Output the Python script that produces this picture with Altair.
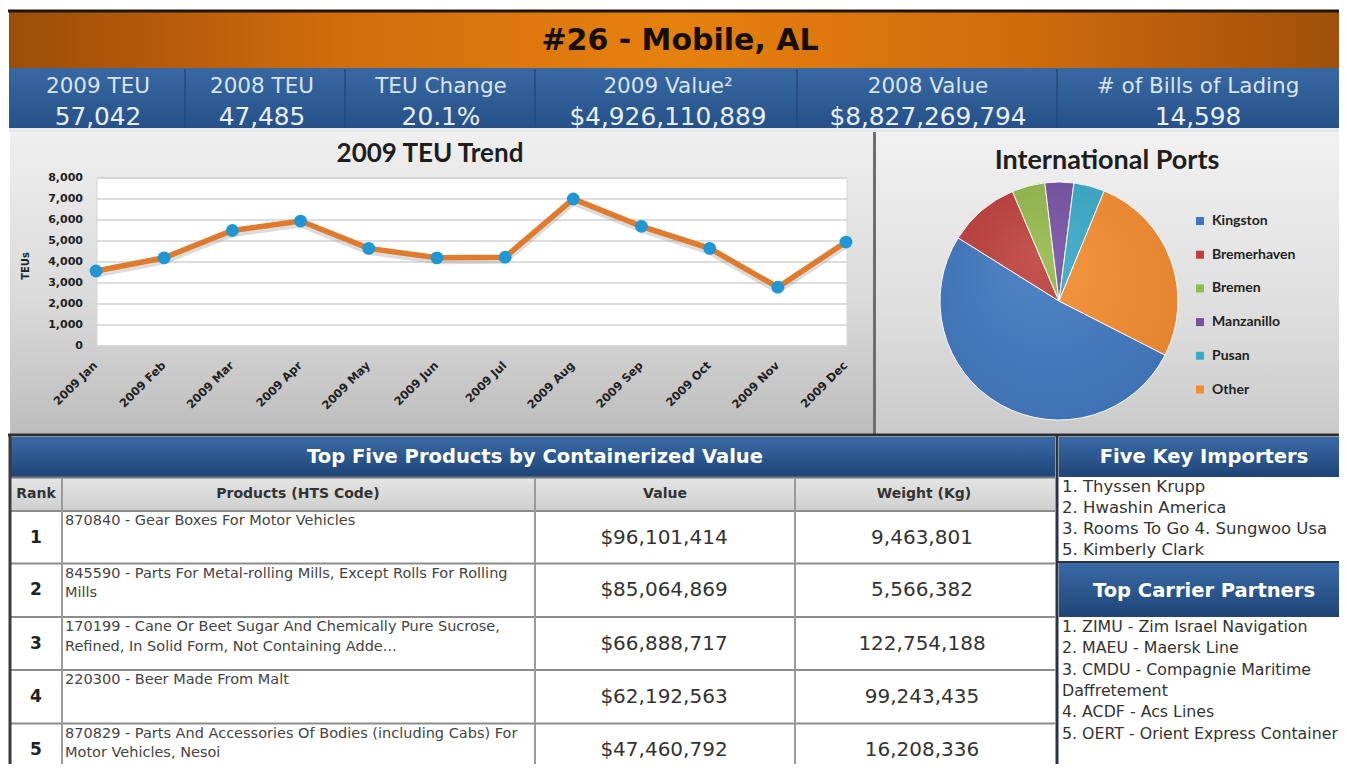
import math
import altair as alt
import pandas as pd

# ---------------- data ----------------
dashboard_title = "#26 - Mobile, AL"
stat_labels = ["2009 TEU", "2008 TEU", "TEU Change", "2009 Value²", "2008 Value", "# of Bills of Lading"]
stat_values = ["57,042", "47,485", "20.1%", "$4,926,110,889", "$8,827,269,794", "14,598"]

trend_title = "2009 TEU Trend"
trend_axis_title = "TEUs"
months = ["2009 Jan", "2009 Feb", "2009 Mar", "2009 Apr", "2009 May", "2009 Jun",
          "2009 Jul", "2009 Aug", "2009 Sep", "2009 Oct", "2009 Nov", "2009 Dec"]
teu_2009 = [3570, 4200, 5500, 5950, 4650, 4200, 4230, 7000, 5700, 4650, 2800, 4950]
teu_ticks = [0, 1000, 2000, 3000, 4000, 5000, 6000, 7000, 8000]

ports_title = "International Ports"
ports = ["Kingston", "Bremerhaven", "Bremen", "Manzanillo", "Pusan", "Other"]
port_share = [51.4, 9.7, 4.5, 3.9, 4.2, 26.3]

table_title = "Top Five Products by Containerized Value"
table_columns = ["Rank", "Products (HTS Code)", "Value", "Weight (Kg)"]
ranks = ["1", "2", "3", "4", "5"]
products = [
    "870840 - Gear Boxes For Motor Vehicles",
    "845590 - Parts For Metal-rolling Mills, Except Rolls For Rolling\nMills",
    "170199 - Cane Or Beet Sugar And Chemically Pure Sucrose,\nRefined, In Solid Form, Not Containing Adde...",
    "220300 - Beer Made From Malt",
    "870829 - Parts And Accessories Of Bodies (including Cabs) For\nMotor Vehicles, Nesoi",
]
product_values = ["$96,101,414", "$85,064,869", "$66,888,717", "$62,192,563", "$47,460,792"]
product_weights = ["9,463,801", "5,566,382", "122,754,188", "99,243,435", "16,208,336"]

importers_title = "Five Key Importers"
importers = ["1. Thyssen Krupp", "2. Hwashin America", "3. Rooms To Go 4. Sungwoo Usa", "5. Kimberly Clark"]
carriers_title = "Top Carrier Partners"
carriers = ["1. ZIMU - Zim Israel Navigation", "2. MAEU - Maersk Line",
            "3. CMDU - Compagnie Maritime\nDaffretement", "4. ACDF - Acs Lines",
            "5. OERT - Orient Express Container"]

# ---------------- styles ----------------
port_colors = ["#3F78C0", "#BE3F3B", "#93BA4C", "#7650A4", "#38AAC8", "#F58C2E"]
LINE_ORANGE = "#E07A2C"
POINT_BLUE = "#1F97D3"
SANS = "DejaVu Sans"
CHART_FONT = "Lato"

# ---------------- layout (page pixels) ----------------
OFF = 8
W, H = 1331, 756


def px(v):
    return v - OFF


ONE = pd.DataFrame({"k": [0]})


def grad(stops, horizontal=False):
    return alt.LinearGradient(
        gradient="linear", x1=0, y1=0, x2=1 if horizontal else 0, y2=0 if horizontal else 1,
        stops=[alt.GradientStop(offset=o, color=c) for o, c in stops])


def box(x0, y0, x1, y1, fill, stroke=None, sw=0):
    kw = {"fill": fill, "strokeWidth": sw}
    if stroke:
        kw["stroke"] = stroke
    return alt.Chart(ONE).mark_rect(**kw).encode(
        x=alt.value(px(x0)), x2=alt.value(px(x1)), y=alt.value(px(y0)), y2=alt.value(px(y1)))


def rule(x0, y0, x1, y1, color, w):
    return alt.Chart(ONE).mark_rule(color=color, strokeWidth=w).encode(
        x=alt.value(px(x0)), x2=alt.value(px(x1)), y=alt.value(px(y0)), y2=alt.value(px(y1)))


def label(text, x, y, size, color, weight="normal", font=SANS, align="center",
          baseline="middle", angle=0, **kw):
    return alt.Chart(ONE).mark_text(
        text=text, font=font, fontSize=size, fontWeight=weight, color=color,
        align=align, baseline=baseline, angle=angle, **kw).encode(
        x=alt.value(px(x)), y=alt.value(px(y)))


def text_layer(df, field, size, color, weight="normal", font=SANS, align="center",
               baseline="middle", **kw):
    return alt.Chart(df).mark_text(
        font=font, fontSize=size, fontWeight=weight, color=color, align=align,
        baseline=baseline, **kw).encode(
        x=alt.X("px_x:Q", scale=None, axis=None),
        y=alt.Y("px_y:Q", scale=None, axis=None),
        text=alt.Text(f"{field}:N"))


RIGHT = 1340
BOTTOM = 765
layers = []

# ---- frame / backgrounds ----
layers.append(box(8, 10, RIGHT, BOTTOM, "#FFFFFF"))
layers.append(box(9, 11, RIGHT, 68, grad([(0, "#9C4D08"), (0.25, "#D26C0D"), (0.5, "#E6810F"),
                                            (0.75, "#D26C0D"), (1, "#A0500A")], horizontal=True)))
layers.append(rule(8, 11, RIGHT, 11, "#1E1408", 3))
layers.append(box(9, 68, RIGHT, 128, grad([(0, "#3868A3"), (0.5, "#2F5D96"), (1, "#26508A")])))
layers.append(box(9, 128, RIGHT, 132, "#E8E8E8"))
stat_edges = [185, 345, 535, 797, 1057]
for xe in stat_edges:
    layers.append(rule(xe, 69, xe, 127, "#244A7E", 1.5))

# trend panel & pie panel
layers.append(box(10, 132, 873, 434, grad([(0, "#EFEFEF"), (0.55, "#DADADA"), (1, "#BDBDBD")])))
layers.append(box(876, 132, RIGHT, 434, grad([(0, "#F1F1F1"), (0.6, "#DEDEDE"), (1, "#CACACA")])))
layers.append(rule(874.5, 132, 874.5, 434, "#6E6E6E", 3))
layers.append(rule(8, 435, RIGHT, 435, "#2E2E2E", 3))

# table header bars
blue_bar = grad([(0, "#3A6AA6"), (0.5, "#2C588F"), (1, "#1F4476")])
layers.append(box(10, 437, 1055, 477, blue_bar))
layers.append(box(1059, 437, RIGHT, 477, blue_bar))
layers.append(box(1059, 563, RIGHT, 617, blue_bar))
layers.append(box(10, 478, 1055, 511, grad([(0, "#E4E4E4"), (1, "#CFCFCF")])))

# table grid
row_tops = [511, 563.5, 617, 670, 723.5]
col_edges = [62, 535, 795]
layers.append(rule(10, 477.5, 1055, 477.5, "#7A7A7A", 2))
for yt in row_tops:
    layers.append(rule(10, yt, 1055, yt, "#8C8C8C", 2))
for xe in col_edges:
    layers.append(rule(xe, 478, xe, BOTTOM, "#9A9A9A", 2))
layers.append(rule(10, 436, 10, BOTTOM, "#3A3A3A", 3))
layers.append(rule(1057, 436, 1057, BOTTOM, "#2B3445", 3))
layers.append(rule(1058, 562, RIGHT, 562, "#2B3445", 2))

# ---- title & stats ----
layers.append(label(dashboard_title, 680, 41, 30, "#141008", weight="bold"))
stat_cx = [98, 262, 441, 668, 928, 1198]
stats_df = pd.DataFrame({"label": stat_labels, "value": stat_values,
                         "px_x": [px(v) for v in stat_cx]})
stats_df["px_y"] = px(86.5)
layers.append(text_layer(stats_df, "label", 21.5, "#D9E4F1"))
stats_df2 = stats_df.copy()
stats_df2["px_y"] = px(117.5)
layers.append(text_layer(stats_df2, "value", 24.8, "#E9EFF6"))

# ---- trend chart ----
layers.append(label(trend_title, 430, 154, 26, "#1E1E1E", weight="bold", font=CHART_FONT))
layers.append(box(97, 178, 847, 346, "#FFFFFF", stroke="#D6D6D6", sw=1))
xs = alt.Scale(domain=months, range=[px(96), px(846)], padding=0)
ys = alt.Scale(domain=[0, 8000], range=[px(346), px(178)], nice=False, zero=True)
tick_df = pd.DataFrame({"t": teu_ticks})
layers.append(alt.Chart(tick_df).mark_rule(color="#D2D2D2", strokeWidth=1.6).encode(
    y=alt.Y("t:Q", scale=ys, axis=None), x=alt.value(px(97)), x2=alt.value(px(847))))
layers.append(alt.Chart(tick_df).mark_text(
    align="right", baseline="middle", font=SANS, fontWeight="bold", fontSize=11, color="#222222").encode(
    y=alt.Y("t:Q", scale=ys, axis=None), x=alt.value(px(83)), text=alt.Text("t:Q", format=",")))
layers.append(label(trend_axis_title, 26, 266, 10, "#222222", weight="bold", angle=270))
trend_df = pd.DataFrame({"month": months, "teu": teu_2009})
X = alt.X("month:N", scale=xs, axis=None, sort=months)
Y = alt.Y("teu:Q", scale=ys, axis=None)
layers.append(alt.Chart(trend_df).mark_line(color="#9A9A9A", strokeWidth=7, opacity=0.35,
                                             yOffset=3).encode(x=X, y=Y))
layers.append(alt.Chart(trend_df).mark_line(color=LINE_ORANGE, strokeWidth=5.5).encode(x=X, y=Y))
layers.append(alt.Chart(trend_df).mark_point(filled=True, shape="circle", size=165, opacity=1,
                                              color=POINT_BLUE).encode(x=X, y=Y))
layers.append(alt.Chart(pd.DataFrame({"month": months})).mark_text(
    angle=315, align="right", baseline="middle", font=SANS, fontWeight="bold", fontSize=11.5,
    color="#222222").encode(
    x=alt.X("month:N", scale=xs, axis=None, sort=months), y=alt.value(px(364)),
    text="month:N"))

# ---- pie chart ----
layers.append(label(ports_title, 1107, 161, 27, "#1E1E1E", weight="bold", font=CHART_FONT))
pie_df = pd.DataFrame({"port": ports, "share": port_share, "idx": list(range(len(ports)))})
start = math.radians(117)
pie_cx, pie_cy, pie_r = 1059, 301, 119
layers.append(alt.Chart(pie_df).mark_arc(radius=pie_r, stroke="#FFFFFF", strokeWidth=1).encode(
    theta=alt.Theta("share:Q", stack=True,
                    scale=alt.Scale(domain=[0, sum(port_share)], range=[start, start + 2 * math.pi],
                                    nice=False)),
    color=alt.Color("port:N", scale=alt.Scale(domain=ports, range=port_colors),
                    legend=alt.Legend(orient="none", legendX=px(1193), legendY=px(214), title=None,
                                      symbolType="square", symbolSize=64, symbolStrokeWidth=0,
                                      labelFont=CHART_FONT, labelFontSize=14, labelFontWeight="bold",
                                      labelColor="#222222", labelOffset=5, rowPadding=19.7,
                                      padding=0)),
    order=alt.Order("idx:Q"),
    x=alt.value(px(pie_cx)), y=alt.value(px(pie_cy))))
shade = alt.RadialGradient(
    gradient="radial", x1=0.4, y1=0.3, r1=0, x2=0.5, y2=0.5, r2=0.7,
    stops=[alt.GradientStop(offset=0, color="rgba(255,255,255,0.10)"),
           alt.GradientStop(offset=1, color="rgba(0,0,0,0.08)")])
layers.append(alt.Chart(ONE).mark_arc(theta=0, theta2=2 * math.pi, radius=pie_r, fill=shade).encode(
    x=alt.value(px(pie_cx)), y=alt.value(px(pie_cy))))

# ---- table text ----
layers.append(label(table_title, 535, 457, 19.5, "#FFFFFF", weight="bold"))
col_cx = [36, 298, 665, 924]
cols_df = pd.DataFrame({"col": table_columns, "px_x": [px(v) for v in col_cx]})
cols_df["px_y"] = px(494)
layers.append(text_layer(cols_df, "col", 14, "#333333", weight="bold"))

mids = [px(t + 26.5) for t in row_tops]
rank_df = pd.DataFrame({"rank": ranks, "px_y": mids})
rank_df["px_x"] = px(36)
layers.append(text_layer(rank_df, "rank", 17, "#222222", weight="bold"))
val_df = pd.DataFrame({"v": product_values, "px_y": mids})
val_df["px_x"] = px(664)
layers.append(text_layer(val_df, "v", 20, "#333333"))
wt_df = pd.DataFrame({"w": product_weights, "px_y": mids})
wt_df["px_x"] = px(922)
layers.append(text_layer(wt_df, "w", 20, "#333333"))
prod_df = pd.DataFrame({"p": products, "px_y": [px(t + 3) for t in row_tops]})
prod_df["px_x"] = px(65)
layers.append(text_layer(prod_df, "p", 14.5, "#444444", align="left", baseline="top",
                         lineBreak="\n", lineHeight=19.5))

# ---- right panel ----
layers.append(label(importers_title, 1204, 457, 19.5, "#FFFFFF", weight="bold"))
layers.append(label(carriers_title, 1204, 591, 19.5, "#FFFFFF", weight="bold"))
layers.append(label("\n".join(importers), 1062, 479, 16.5, "#333333", align="left", baseline="top",
                    lineBreak="\n", lineHeight=21))
layers.append(label("\n".join(carriers), 1062, 620, 15.8, "#333333", align="left", baseline="top",
                    lineBreak="\n", lineHeight=21.3))

chart = alt.layer(*layers).resolve_scale(
    x="independent", y="independent", color="independent", theta="independent"
).properties(
    width=W, height=H, padding=0, background="#FFFFFF",
    autosize=alt.AutoSizeParams(type="none")
).configure_view(strokeWidth=0)

chart.save("out.html", embed_options={"renderer": "svg", "actions": False})
